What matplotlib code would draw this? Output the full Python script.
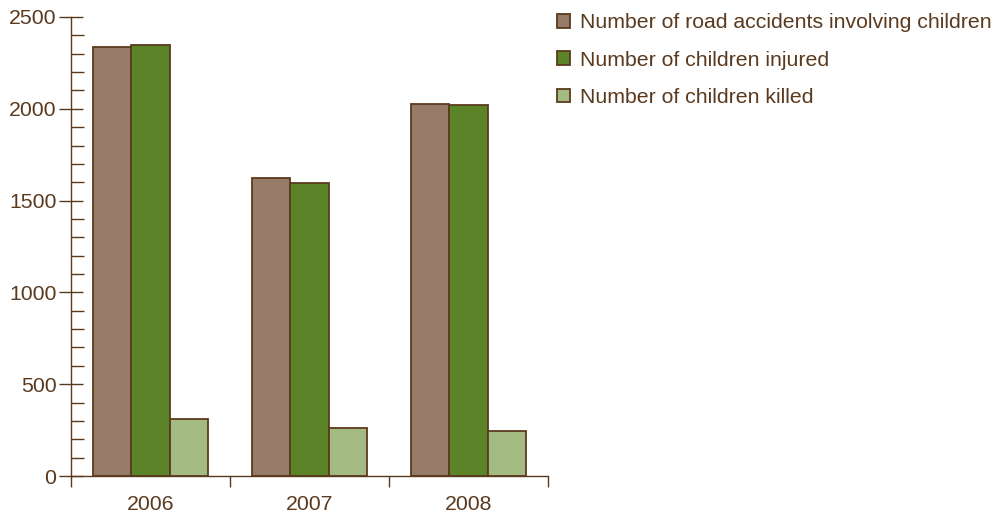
import matplotlib.pyplot as plt
import numpy as np
from matplotlib.ticker import MultipleLocator, FixedLocator, NullFormatter

plt.rcParams['font.family'] = ['Liberation Sans', 'DejaVu Sans']

years = ['2006', '2007', '2008']
accidents = [2335, 1622, 2025]
injured = [2346, 1597, 2018]
killed = [310, 263, 245]

series_names = ['Number of road accidents involving children',
                'Number of children injured',
                'Number of children killed']
colors = ['#977b69', '#5a8427', '#a3ba82']
edge = '#5a3a1e'
text_col = '#5a3a1e'
fs = 15.3

fig = plt.figure(figsize=(9.97, 5.17), dpi=100)
ax = fig.add_axes([71 / 997, 41 / 517, 477 / 997, 459 / 517])

x = np.arange(len(years))
w = 0.239
handles = []
for i, (vals, c, name) in enumerate(zip([accidents, injured, killed], colors, series_names)):
    b = ax.bar(x + (i - 1) * w, vals, width=w, color=c, edgecolor=edge,
               linewidth=1.3, label=name)
    handles.append(b)

ax.set_xlim(-0.5, len(years) - 0.5)
ax.set_ylim(0, 2500)

for s in ['top', 'right']:
    ax.spines[s].set_visible(False)
for s in ['left', 'bottom']:
    ax.spines[s].set_color(edge)
    ax.spines[s].set_linewidth(1.0)

ax.yaxis.set_major_locator(MultipleLocator(500))
ax.yaxis.set_minor_locator(MultipleLocator(100))
ax.tick_params(axis='y', which='major', direction='inout', length=17, width=1.0,
               color=edge, labelcolor=text_col, labelsize=fs, pad=2)
ax.tick_params(axis='y', which='minor', direction='in', length=9, width=1.0, color=edge)

# category boundaries carry the ticks, labels sit in between
ax.xaxis.set_major_locator(FixedLocator(np.arange(-0.5, len(years), 1.0)))
ax.xaxis.set_major_formatter(NullFormatter())
ax.xaxis.set_minor_locator(FixedLocator(x))
ax.set_xticks(x, years, minor=True)
ax.tick_params(axis='x', which='major', direction='out', length=8, width=1.0, color=edge)
ax.tick_params(axis='x', which='minor', length=0, labelcolor=text_col, labelsize=fs, pad=14)

fig.legend(handles=handles, loc='upper left', bbox_to_anchor=(548 / 997, 1 - 5 / 517),
           frameon=False, fontsize=fs, labelcolor=text_col,
           handlelength=0.62, handleheight=0.62, handletextpad=0.5, labelspacing=0.86,
           borderaxespad=0)

fig.savefig('out.png', dpi=100)
